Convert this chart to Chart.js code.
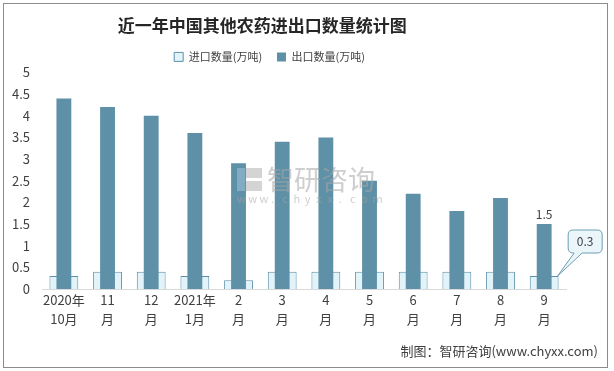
<!DOCTYPE html>
<html>
<head>
<meta charset="utf-8">
<script src="https://cdn.jsdelivr.net/npm/chart.js@4.4.1/dist/chart.umd.min.js"></script>
<style>
  html, body { margin: 0; padding: 0; background: #fff; }
  canvas { display: block; }
</style>
</head>
<body>
<canvas id="chart" width="614" height="371"></canvas>
<script>
// data
const months = [
  ['2020年', '10月'], ['11', '月'], ['12', '月'], ['2021年', '1月'],
  ['2', '月'], ['3', '月'], ['4', '月'], ['5', '月'],
  ['6', '月'], ['7', '月'], ['8', '月'], ['9', '月']
];
const importQty = [0.3, 0.4, 0.4, 0.3, 0.2, 0.4, 0.4, 0.4, 0.4, 0.4, 0.4, 0.3];
const exportQty = [4.4, 4.2, 4.0, 3.6, 2.9, 3.4, 3.5, 2.5, 2.2, 1.8, 2.1, 1.5];

const FONT = '"Noto Sans CJK SC", "Noto Sans", sans-serif';
const textColor = '#404040';

// frame, watermark, labels and footer
const extras = {
  id: 'extras',
  beforeDraw(chart) {
    const ctx = chart.ctx;
    ctx.save();
    ctx.fillStyle = '#fff';
    ctx.fillRect(0, 0, chart.width, chart.height);
    ctx.strokeStyle = '#8c8c8c';
    ctx.lineWidth = 1;
    ctx.strokeRect(3.5, 3.5, 604, 364);
    ctx.restore();
  },
  afterDatasetsDraw(chart) {
    const ctx = chart.ctx;
    ctx.save();

    // watermark
    ctx.globalAlpha = 0.55;
    ctx.fillStyle = '#9fc3dc';
    ctx.fillRect(237, 168, 8, 23);
    ctx.fillStyle = '#b0b0b0';
    ctx.fillRect(246, 168, 16, 10);
    ctx.fillRect(246, 181, 16, 10);
    ctx.fillStyle = '#a6a6a6';
    ctx.font = '27px ' + FONT;
    ctx.textBaseline = 'middle';
    ctx.textAlign = 'left';
    ctx.fillText('智研咨询', 267, 180);
    ctx.font = '11px ' + FONT;
    const url = 'www.chyxx.com';
    for (let i = 0; i < url.length; i++) {
      ctx.fillText(url[i], 237 + i * 11.3, 199);
    }
    ctx.globalAlpha = 1;

    // value label on last export bar
    const exp = chart.getDatasetMeta(1).data[11];
    ctx.fillStyle = textColor;
    ctx.font = '12px ' + FONT;
    ctx.textAlign = 'center';
    ctx.textBaseline = 'bottom';
    ctx.fillText(String(exportQty[11]), exp.x, exp.y - 4);

    // callout for last import bar
    const imp = chart.getDatasetMeta(0).data[11];
    const px = imp.x + imp.width / 2 - 1, py = imp.y;
    const bx = imp.x + 24, by = imp.y - 46, bw = 34, bh = 23;
    ctx.fillStyle = '#eaf6fa';
    ctx.strokeStyle = '#6f9db3';
    ctx.lineWidth = 1;
    ctx.beginPath();
    ctx.moveTo(bx + 5, by);
    ctx.lineTo(bx + bw - 5, by);
    ctx.quadraticCurveTo(bx + bw, by, bx + bw, by + 5);
    ctx.lineTo(bx + bw, by + bh - 5);
    ctx.quadraticCurveTo(bx + bw, by + bh, bx + bw - 5, by + bh);
    ctx.lineTo(bx + 14, by + bh);
    ctx.lineTo(px, py);
    ctx.lineTo(bx + 6, by + bh);
    ctx.lineTo(bx + 5, by + bh);
    ctx.quadraticCurveTo(bx, by + bh, bx, by + bh - 5);
    ctx.lineTo(bx, by + 5);
    ctx.quadraticCurveTo(bx, by, bx + 5, by);
    ctx.closePath();
    ctx.fill();
    ctx.stroke();
    ctx.fillStyle = textColor;
    ctx.textBaseline = 'middle';
    ctx.fillText(String(importQty[11]), bx + bw / 2, by + bh / 2);

    // footer
    ctx.font = '13px ' + FONT;
    ctx.textAlign = 'right';
    ctx.textBaseline = 'middle';
    ctx.fillText('制图：智研咨询(www.chyxx.com)', 598, 351);
    ctx.restore();
  }
};

const ctx = document.getElementById('chart').getContext('2d');
const chart = new Chart(ctx, {
  type: 'bar',
  data: {
    labels: months,
    datasets: [{
      label: '进口数量(万吨)',
      data: importQty,
      backgroundColor: '#e2f4fa',
      borderColor: '#5b8fa8',
      borderWidth: 1,
      barPercentage: 0.66,
      categoryPercentage: 1,
      grouped: false,
      order: 1
    }, {
      label: '出口数量(万吨)',
      data: exportQty,
      backgroundColor: '#5e90a7',
      borderColor: '#4f7f96',
      borderWidth: 0,
      barPercentage: 0.34,
      categoryPercentage: 1,
      grouped: false,
      order: 0
    }]
  },
  options: {
    responsive: false,
    animation: false,
    events: [],
    layout: { padding: { left: 0, right: 48, top: 0, bottom: 41 } },
    plugins: {
      title: {
        display: true,
        // trailing spaces shift the title left, as in the original
        text: '近一年中国其他农药进出口数量统计图　　  ',
        color: '#262626',
        font: { family: FONT, size: 17, weight: 'bold' },
        padding: { top: 15, bottom: 11 }
      },
      legend: {
        display: true,
        labels: {
          color: textColor,
          font: { family: FONT, size: 11 },
          boxWidth: 9,
          boxHeight: 9,
          padding: 5,
          sort: (a, b) => a.datasetIndex - b.datasetIndex,
          generateLabels(chart) {
            const items = Chart.defaults.plugins.legend.labels.generateLabels(chart);
            items.forEach(it => {
              if (it.datasetIndex === 0) it.text = it.text + '    ';
              else it.text = it.text + '　　  ';
            });
            return items;
          }
        }
      },
      tooltip: { enabled: false }
    },
    scales: {
      x: {
        grid: { display: false, drawTicks: false },
        border: { display: true, color: '#d9d9d9' },
        ticks: {
          color: textColor,
          font: { family: FONT, size: 13, lineHeight: 1.5 },
          maxRotation: 0,
          autoSkip: false,
          padding: 1
        }
      },
      y: {
        min: 0,
        max: 5,
        grid: { display: false, drawTicks: false },
        border: { display: false },
        ticks: {
          stepSize: 0.5,
          callback: v => String(v),
          color: textColor,
          font: { family: FONT, size: 13 },
          padding: 12
        }
      }
    }
  },
  plugins: [extras]
});
</script>
</body>
</html>
